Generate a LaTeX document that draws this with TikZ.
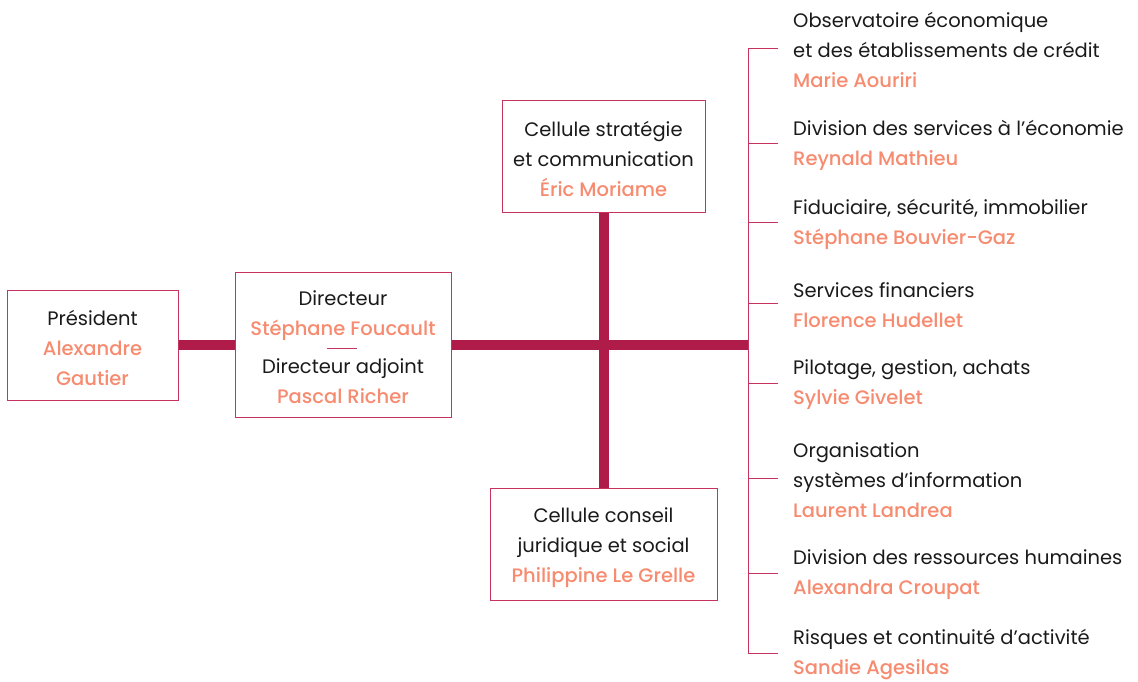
\documentclass[tikz,border=0pt]{standalone}
\usepackage{fontspec}
\setmainfont{Poppins}
\newfontfamily\namefont{Poppins Medium}
\definecolor{barc}{HTML}{B01C4A}
\definecolor{edgec}{HTML}{C8325F}
\definecolor{namec}{HTML}{F68B70}
\definecolor{textc}{HTML}{1A1A1A}
\newcommand\nm[1]{{\namefont\textcolor{namec}{#1}}}
\tikzset{
  boxst/.style={draw=edgec, line width=1pt, rectangle, inner sep=0pt, align=center,
    text=textc, font=\fontsize{19.5}{30}\selectfont},
  barst/.style={draw=barc, line width=10pt},
  thinst/.style={draw=edgec, line width=1pt},
  entry/.style={anchor=west, align=left, inner sep=0pt, text=textc,
    font=\fontsize{19.5}{30}\selectfont},
}
\begin{document}
\begin{tikzpicture}[x=1pt,y=-1pt]
\useasboundingbox (0,0) rectangle (1138,681);
% boxes
\node[boxst, minimum width=171pt, minimum height=110pt] (pres) at (92.5,345) {};
\node[boxst, draw=none] (prest) at (92.5,347.5) {Président\\\nm{Alexandre}\\\nm{Gautier}};
\node[boxst, minimum width=216pt, minimum height=145pt] (dir) at (343,344.5) {};
\node[boxst, draw=none] (dirt) at (343,347)
  {Directeur\\\nm{Stéphane Foucault}\\[8pt]Directeur adjoint\\\nm{Pascal Richer}};
\node[boxst, minimum width=203pt, minimum height=112pt] (top) at (603.5,156) {};
\node[boxst, draw=none] (topt) at (603.5,158.5)
  {Cellule stratégie\\et communication\\\nm{Éric Moriame}};
\node[boxst, minimum width=227pt, minimum height=112pt] (bot) at (603.5,544) {};
\node[boxst, draw=none] (bott) at (603.5,547.5)
  {Cellule conseil\\juridique et social\\\nm{Philippine Le Grelle}};
\coordinate (rule1) at (327,348);
\coordinate (rule2) at (357,348);
\draw[thinst] (rule1) -- (rule2);
% spine
\coordinate (spinetop) at (748,48);
\coordinate (spinebot) at (748,653);
\coordinate (spinemid) at (748,345);
% thick bars
\draw[barst] (pres.east) -- (pres.east -| dir.west);
\draw[barst] (dir.east |- spinemid) -- (spinemid);
\draw[barst] (top.south) -- (bot.north);
\draw[thinst] (spinetop) -- (spinebot);
% right entries
\node[entry] (r1) at (793,50) {Observatoire économique\\et des établissements de crédit\\\nm{Marie Aouriri}};
\node[entry] (r2) at (793,145) {Division des services à l’économie\\\nm{Reynald Mathieu}};
\node[entry] (r3) at (793,224) {Fiduciaire, sécurité, immobilier\\\nm{Stéphane Bouvier-Gaz}};
\node[entry] (r4) at (793,305) {Services financiers\\\nm{Florence Hudellet}};
\node[entry] (r5) at (793,385) {Pilotage, gestion, achats\\\nm{Sylvie Givelet}};
\node[entry] (r6) at (793,480) {Organisation\\systèmes d’information\\\nm{Laurent Landrea}};
\node[entry] (r7) at (793,575) {Division des ressources humaines\\\nm{Alexandra Croupat}};
\node[entry] (r8) at (793,655) {Risques et continuité d’activité\\\nm{Sandie Agesilas}};
\foreach \r/\t in {r1/48,r2/143,r3/222,r4/303,r5/383,r6/478,r7/573,r8/653}
  \draw[thinst] (748,\t) -- ([xshift=-15pt]\r.west |- 0,\t);
\end{tikzpicture}
\end{document}
